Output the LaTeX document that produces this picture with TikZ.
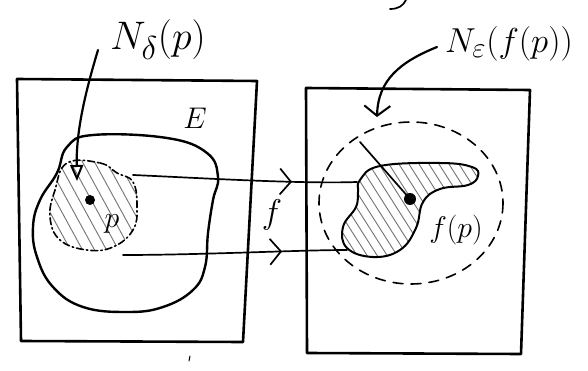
\documentclass[tikz,border=0pt]{standalone}
\usetikzlibrary{arrows.meta,decorations.markings}
\begin{document}
\begin{tikzpicture}[x=1pt,y=-1pt,line cap=round,line join=round,
  frame/.style={line width=2.6pt},
  blobline/.style={line width=2.4pt},
  conn/.style={line width=1.7pt},
  pointer/.style={line width=2.2pt},
  hatch/.style={line width=0.9pt,black!55},
  dashring/.style={line width=1.6pt,dash pattern=on 10pt off 8pt},
  dashdotring/.style={line width=1.6pt,dash pattern=on 7pt off 3pt on 1.5pt off 3pt},
  biglbl/.style={inner sep=0pt,font=\Huge,scale=1.6},
  midlbl/.style={inner sep=0pt,font=\Huge,scale=1.2},
  fmark/.style={postaction={decorate},decoration={markings,
     mark=at position #1 with {\arrow{Straight Barb[length=11pt,width=26pt,line width=1.7pt]}}}}]
\useasboundingbox (0,0) rectangle (588,371);
\fill[white] (0,0) rectangle (588,371);

% boxes
\draw[frame] (17,79) -- (257,81) -- (243,342) -- (21,341) -- cycle;
\draw[frame] (306,88) -- (530,90) -- (521,354) -- (307,353) -- cycle;

% set E
\draw[blobline] plot[smooth cycle,tension=0.7] coordinates {(67,147) (93,135) (167,138) (207,153) (218,177) (213,200) (208,233) (205,267) (193,290) (163,307) (127,312) (83,307) (53,287) (37,257) (33,227) (40,200) (57,173)};
\node[midlbl] (E) at (195,118) {$E$};

% N_delta(p)
\begin{scope}
\clip plot[smooth cycle,tension=0.7] coordinates {(67,163) (100,163) (117,173) (133,182) (137,207) (133,230) (113,247) (87,250) (60,240) (50,217) (55,190)};
\foreach \s in {-20,-8,...,150} \draw[hatch] (\s,150) -- ++(60,110);
\end{scope}
\draw[dashdotring] plot[smooth cycle,tension=0.7] coordinates {(67,163) (100,163) (117,173) (133,182) (137,207) (133,230) (113,247) (87,250) (60,240) (50,217) (55,190)};
\fill (90,200) circle (5);
\node[midlbl] (p) at (112,224) {$p$};
\node[biglbl] (nd) at (158,40) {$N_\delta(p)$};
\coordinate (ndtail) at (98,50);
\coordinate (ndhead) at (77,181);
\draw[pointer,-{Triangle[open,length=16pt,width=13pt,line width=2pt]}] (ndtail) .. controls (86,90) and (76,130) .. (ndhead);

% image blob
\begin{scope}
\clip plot[smooth cycle,tension=0.7] coordinates {(360,180) (380,166) (440,163) (472,167) (478,176) (468,185) (440,189) (423,202) (416,228) (400,250) (373,257) (347,248) (343,227) (356,207) (358,192)};
\foreach \s in {280,290,...,480} \draw[hatch] (\s,150) -- ++(70,110);
\end{scope}
\draw[blobline,line width=2pt] plot[smooth cycle,tension=0.7] coordinates {(360,180) (380,166) (440,163) (472,167) (478,176) (468,185) (440,189) (423,202) (416,228) (400,250) (373,257) (347,248) (343,227) (356,207) (358,192)};

% N_eps ring
\draw[dashring] (411,203) ellipse [x radius=92, y radius=81];
\fill (410,199) circle (6);
\coordinate (fp) at (410,199);
\coordinate (fptop) at (360,142);
\draw[conn] (fp) -- (fptop);
\node[midlbl] (fplbl) at (456,230) {$f(p)$};
\node[biglbl,scale=0.87] (ne) at (509,44) {$N_\varepsilon(f(p))$};
\coordinate (netail) at (437,47);
\coordinate (nehead) at (377,117);
\draw[pointer,-{Straight Barb[length=10pt,width=26pt,line width=2pt]}] (netail) .. controls (400,62) and (378,80) .. (nehead);

% map f
\coordinate (u1) at (133,175);
\coordinate (u2) at (357,182);
\coordinate (l1) at (123,255);
\coordinate (l2) at (347,250);
\draw[conn,fmark=0.71] (u1) .. controls (200,178) and (300,184) .. (u2);
\draw[conn,fmark=0.71] (l1) .. controls (200,255) and (300,250) .. (l2);
\node[midlbl,scale=1.15] (f) at (272,215) {$f$};

% stray strokes
\draw[conn] (406,0) .. controls (403,6) and (398,9) .. (390,9);
\draw[line width=1pt] (190,356) -- (189,361);
\end{tikzpicture}
\end{document}
